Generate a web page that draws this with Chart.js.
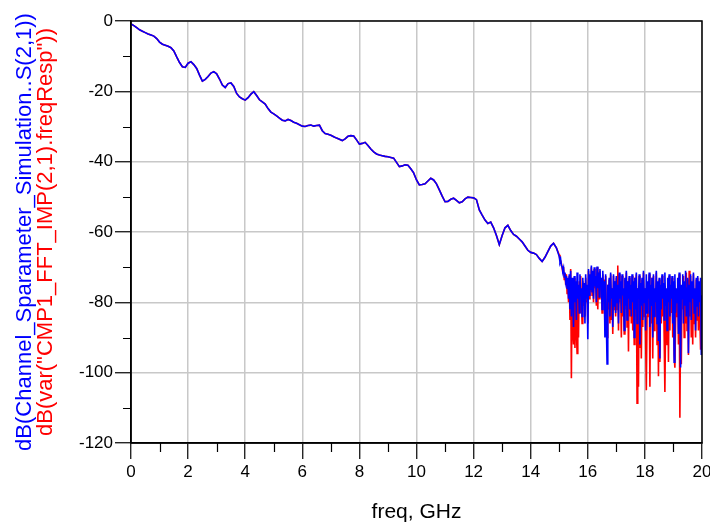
<!DOCTYPE html>
<html>
<head>
<meta charset="utf-8">
<script src="https://cdn.jsdelivr.net/npm/chart.js@4.4.1/dist/chart.umd.min.js"></script>
<style>
  html, body { margin: 0; padding: 0; background: #fff; }
  #wrap { width: 710px; height: 525px; position: relative; }
</style>
</head>
<body>
<div id="wrap"><canvas id="c" width="710" height="525"></canvas></div>
<script>
// ---- data ----
const smoothStartGHz = 0.0;
const smoothStepGHz = 0.1;
// 0.0 .. 14.9 GHz, shared by both traces (they overlap there)
const smoothDb = [
  -0.8, -1.3, -1.9, -2.5, -2.9, -3.3, -3.7, -4.0, -4.3, -5.0,
  -6.0, -6.6, -6.9, -7.2, -7.6, -8.5, -10.2, -11.8, -13.0, -13.2,
  -12.0, -11.6, -12.4, -13.5, -15.4, -17.1, -16.6, -15.8, -14.8, -14.4,
  -15.0, -16.5, -18.2, -18.9, -17.8, -17.6, -18.6, -20.6, -21.6, -22.1,
  -22.5, -21.8, -20.8, -20.1, -21.2, -22.4, -23.0, -23.6, -24.9, -25.9,
  -26.4, -27.0, -27.6, -28.2, -28.4, -28.0, -28.3, -28.8, -29.1, -29.5,
  -29.9, -30.0, -29.7, -29.6, -29.9, -29.7, -29.6, -31.2, -32.0, -32.2,
  -32.5, -32.9, -33.3, -33.6, -34.0, -33.5, -32.8, -32.6, -32.7, -33.8,
  -35.0, -34.8, -34.5, -35.4, -36.4, -37.2, -37.8, -38.1, -38.3, -38.5,
  -38.6, -38.8, -39.0, -40.2, -41.4, -41.2, -40.9, -41.0, -42.0, -43.2,
  -45.2, -46.6, -46.5, -46.3, -45.5, -44.7, -45.2, -46.3, -48.0, -49.8,
  -51.4, -51.3, -50.7, -50.4, -51.0, -51.7, -51.4, -50.6, -50.1, -50.2,
  -50.3, -50.8, -53.7, -55.2, -56.6, -57.6, -57.2, -58.8, -61.0, -63.6,
  -61.0, -58.8, -58.1, -59.6, -60.7, -61.2, -62.0, -62.8, -64.0, -65.2,
  -65.8, -66.0, -66.4, -67.5, -68.4, -67.2, -65.6, -64.0, -63.2, -64.5
];

const noisyStartGHz = 15.0;
const noisyStepGHz = 0.025;
// 15.0 .. 20.0 GHz
const blueNoisyDb = [
  -67.0, -68.5, -67.8, -69.5, -69.9, -71.0, -70.2, -72.8, -71.5, -74.0, -72.5, -76.0, -73.0, -79.0, -72.0, -82.0, -71.0, -84.0, -73.0, -78.0,
  -87.0, -72.5, -80.0, -74.0, -85.0, -71.5, -79.0, -75.0, -83.0, -72.0, -78.0, -76.0, -84.0, -73.0, -80.0, -74.5, -86.0, -72.0, -79.0, -75.0,
  -90.5, -70.5, -78.0, -72.0, -76.5, -69.5, -77.0, -71.0, -79.0, -70.0, -75.5, -72.5, -80.0, -69.8, -76.0, -71.5, -78.5, -70.5, -74.5, -73.0,
  -82.0, -71.0, -78.0, -74.0, -90.0, -72.0, -86.0, -97.5, -75.0, -80.0, -73.0, -84.0, -71.5, -79.0, -76.0, -87.0, -72.0, -81.0, -74.0, -83.0,
  -72.5, -80.0, -75.0, -86.0, -71.5, -79.0, -74.0, -83.0, -72.0, -78.0, -76.0, -88.0, -73.0, -81.0, -71.0, -85.0, -74.0, -79.0, -72.5, -82.0,
  -75.0, -84.0, -72.0, -80.0, -74.0, -90.0, -73.0, -82.0, -71.5, -86.0, -76.0, -79.0, -72.0, -92.0, -74.5, -81.0, -73.0, -85.0, -71.0, -80.0,
  -76.0, -88.0, -72.0, -83.0, -74.0, -79.0, -71.5, -87.0, -75.0, -81.0, -73.0, -90.0, -72.0, -84.0, -76.0, -80.0, -71.0, -86.0, -74.0, -91.0,
  -73.0, -96.0, -75.0, -82.0, -72.0, -79.0, -74.5, -85.0, -71.5, -81.0, -76.0, -88.0, -73.0, -80.0, -72.0, -84.0, -75.0, -79.0, -72.5, -86.0,
  -74.0, -97.0, -72.0, -83.0, -76.0, -80.0, -73.0, -89.0, -71.5, -82.0, -98.5, -75.0, -79.0, -72.0, -86.0, -74.0, -81.0, -71.0, -84.0, -76.0,
  -73.0, -94.5, -75.0, -80.0, -72.0, -85.0, -74.0, -79.0, -71.5, -83.0, -76.0, -88.0, -73.0, -81.0, -72.5, -84.0, -74.0, -80.0, -73.0, -95.0,
  -78.0
];
const redNoisyDb = [
  -66.5, -68.0, -68.2, -69.0, -70.2, -71.5, -70.0, -73.5, -71.8, -75.0, -72.0, -77.5, -73.5, -80.0, -72.5, -85.0, -70.5, -101.6, -74.0, -88.0,
  -92.0, -73.0, -93.0, -75.0, -88.0, -94.5, -78.0, -90.0, -74.0, -83.0, -72.5, -80.0, -86.0, -74.0, -81.0, -75.0, -84.0, -73.0, -80.0, -76.0,
  -86.0, -71.0, -79.0, -72.5, -77.0, -70.0, -78.0, -71.5, -80.0, -70.5, -76.0, -73.0, -81.0, -70.0, -82.0, -71.5, -79.0, -71.0, -75.0, -73.5,
  -83.0, -72.0, -79.0, -73.5, -88.0, -72.5, -84.0, -90.0, -75.0, -82.0, -73.5, -86.0, -72.0, -85.0, -76.0, -89.0, -72.5, -82.0, -74.0, -84.0,
  -73.0, -82.0, -69.5, -88.0, -72.0, -80.0, -75.0, -90.0, -72.5, -84.0, -76.5, -89.0, -73.5, -82.0, -71.5, -87.0, -74.0, -94.0, -73.0, -84.0,
  -75.5, -86.0, -72.5, -88.0, -74.5, -92.0, -73.0, -84.0, -72.0, -108.7, -76.0, -104.0, -72.5, -93.0, -75.0, -96.0, -73.5, -87.0, -71.5, -84.0,
  -76.0, -90.0, -105.0, -84.0, -74.5, -82.0, -72.0, -104.0, -75.5, -86.0, -73.0, -96.0, -72.5, -88.0, -76.5, -84.0, -71.5, -92.0, -74.5, -101.0,
  -73.5, -97.0, -75.5, -86.0, -72.5, -84.0, -75.0, -90.0, -105.5, -85.0, -76.5, -92.0, -73.5, -97.0, -72.5, -88.0, -75.5, -83.0, -73.0, -90.0,
  -74.5, -95.0, -98.6, -86.0, -76.5, -84.0, -73.5, -92.0, -72.0, -112.8, -85.0, -97.6, -76.0, -82.0, -72.5, -90.0, -74.5, -86.0, -71.5, -88.0,
  -73.5, -95.0, -71.0, -84.0, -72.5, -90.0, -74.5, -92.0, -72.0, -86.0, -76.5, -90.0, -73.5, -85.0, -73.0, -88.0, -74.5, -84.0, -93.5, -80.0,
  -79.0
];

const xMajorTicks = [0, 2, 4, 6, 8, 10, 12, 14, 16, 18, 20];
const xMinorTicks = [1, 3, 5, 7, 9, 11, 13, 15, 17, 19];
const yMajorTicks = [0, -20, -40, -60, -80, -100, -120];
const yMinorTicks = [-10, -30, -50, -70, -90, -110];
const yTitleLines = ['dB(Channel_Sparameter_Simulation..S(2,1))', 'dB(var("CMP1_FFT_IMP(2,1).freqResp"))'];
const xTitle = 'freq, GHz';

// ---- build points ----
function toPoints(start, step, values) {
  return values.map((v, i) => ({ x: +(start + i * step).toFixed(4), y: v }));
}
const bluePts = toPoints(smoothStartGHz, smoothStepGHz, smoothDb).concat(toPoints(noisyStartGHz, noisyStepGHz, blueNoisyDb));
const redPts = toPoints(smoothStartGHz, smoothStepGHz, smoothDb).concat(toPoints(noisyStartGHz, noisyStepGHz, redNoisyDb));

const FONT = '"Liberation Sans", Arial, sans-serif';

const decor = {
  id: 'decor',
  afterDraw(chart) {
    const { ctx, chartArea: a, scales: { x, y } } = chart;
    ctx.save();
    ctx.strokeStyle = '#000';
    ctx.lineWidth = 1.5;
    ctx.strokeRect(a.left, a.top, a.right - a.left, a.bottom - a.top);
    ctx.lineWidth = 1.2;
    ctx.beginPath();
    xMinorTicks.forEach(v => {
      const px = Math.round(x.getPixelForValue(v)) + 0.5;
      ctx.moveTo(px, a.bottom);
      ctx.lineTo(px, a.bottom + 9);
    });
    yMinorTicks.forEach(v => {
      const py = Math.round(y.getPixelForValue(v)) + 0.5;
      ctx.moveTo(a.left, py);
      ctx.lineTo(a.left - 8, py);
    });
    ctx.stroke();
    const cy = (a.top + a.bottom) / 2;
    ctx.translate(0, cy);
    ctx.rotate(-Math.PI / 2);
    ctx.font = '22px ' + FONT;
    ctx.textAlign = 'center';
    ctx.textBaseline = 'middle';
    ctx.fillStyle = '#0000ff';
    ctx.fillText(yTitleLines[0], 0, 25);
    ctx.fillStyle = '#ff0000';
    ctx.fillText(yTitleLines[1], 0, 46);
    ctx.restore();
  }
};

new Chart(document.getElementById('c'), {
  type: 'line',
  data: {
    datasets: [
      { label: 'S21', data: bluePts, borderColor: '#0000ff', borderWidth: 1.6, pointRadius: 0, tension: 0, order: 0 },
      { label: 'freqResp', data: redPts, borderColor: '#ff0000', borderWidth: 1.6, pointRadius: 0, tension: 0, order: 1 }
    ]
  },
  options: {
    responsive: false,
    animation: false,
    events: [],
    layout: { padding: { left: 0, right: 8, top: 21, bottom: 0 } },
    plugins: { legend: { display: false }, tooltip: { enabled: false } },
    scales: {
      x: {
        type: 'linear', min: 0, max: 20,
        afterFit(s) { s.height = 82; s.paddingRight = 0; s.paddingLeft = 0; },
        afterBuildTicks(s) { s.ticks = xMajorTicks.map(v => ({ value: v })); },
        ticks: { color: '#000', font: { family: FONT, size: 17 }, padding: 3, maxRotation: 0, autoSkip: false,
                 callback: v => String(v) },
        grid: { color: '#c8c8c8', lineWidth: 1.5, tickColor: '#000', tickLength: 16, tickWidth: 1.2 },
        border: { color: '#000', width: 1.5 },
        title: { display: true, text: xTitle, color: '#000', font: { family: FONT, size: 21 }, padding: { top: 0, bottom: 0 } }
      },
      y: {
        type: 'linear', min: -120, max: 0,
        afterFit(s) { s.width = 131; },
        afterBuildTicks(s) { s.ticks = yMajorTicks.map(v => ({ value: v })); },
        ticks: { color: '#000', font: { family: FONT, size: 17 }, padding: 2, autoSkip: false,
                 callback: v => String(v) },
        grid: { color: '#c8c8c8', lineWidth: 1.5, tickColor: '#000', tickLength: 16, tickWidth: 1.2 },
        border: { color: '#000', width: 1.5 }
      }
    }
  },
  plugins: [decor]
});
</script>
</body>
</html>
